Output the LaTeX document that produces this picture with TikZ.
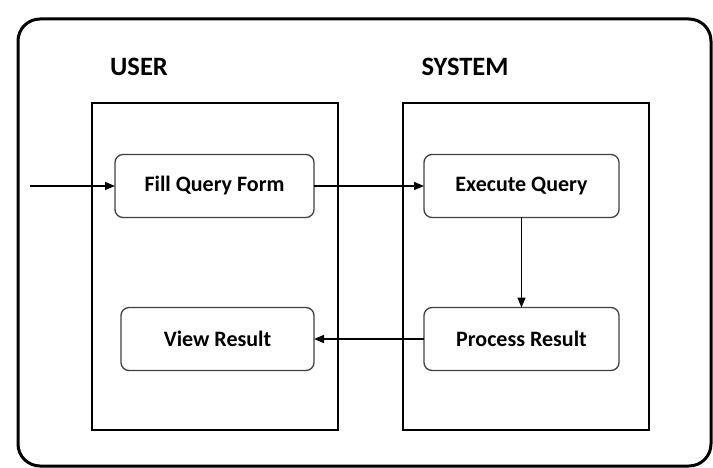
\documentclass[tikz,border=0pt]{standalone}
\usepackage{fontspec}
\setmainfont{Carlito}
\usetikzlibrary{arrows.meta,positioning}

\tikzset{
  stepbox/.style={draw=black!75, line width=1.3pt, rounded corners=8pt,
    minimum height=63pt, inner sep=0pt, outer sep=0pt,
    font=\fontsize{22}{26}\selectfont\bfseries},
  lane/.style={draw, line width=1.3pt},
  lanetitle/.style={font=\fontsize{26.5}{30}\selectfont\bfseries},
  flow/.style={-{Triangle[length=10pt,width=8pt]}, line width=1.3pt}
}

\begin{document}
\begin{tikzpicture}[x=1pt,y=-1pt] %User / system flow
    \useasboundingbox (0,0) rectangle (713,468);

    \draw[line width=3pt, rounded corners=22pt] (18,19) rectangle (711,466);

    \draw[lane] (92,103) rectangle (338,430);
    \draw[lane] (403,103) rectangle (649,430);

    \node[lanetitle] (user) at (139,67) {USER};
    \node[lanetitle] (system) at (465,67) {SYSTEM};

    \node[stepbox, minimum width=199pt] (fill) at (214.5,186) {Fill Query Form};
    \node[stepbox, minimum width=195pt] (exec) at (521.5,186) {Execute Query};
    \node[stepbox, minimum width=193pt] (view) at (217.5,339) {View Result};
    \node[stepbox, minimum width=195pt] (proc) at (521.5,339) {Process Result};

    \coordinate (start) at (30,186);

    \draw[flow] (start) -- (fill);
    \draw[flow] (fill) -- (exec);
    \draw[flow] (exec) -- (proc);
    \draw[flow] (proc) -- (view);
\end{tikzpicture}
\end{document}
